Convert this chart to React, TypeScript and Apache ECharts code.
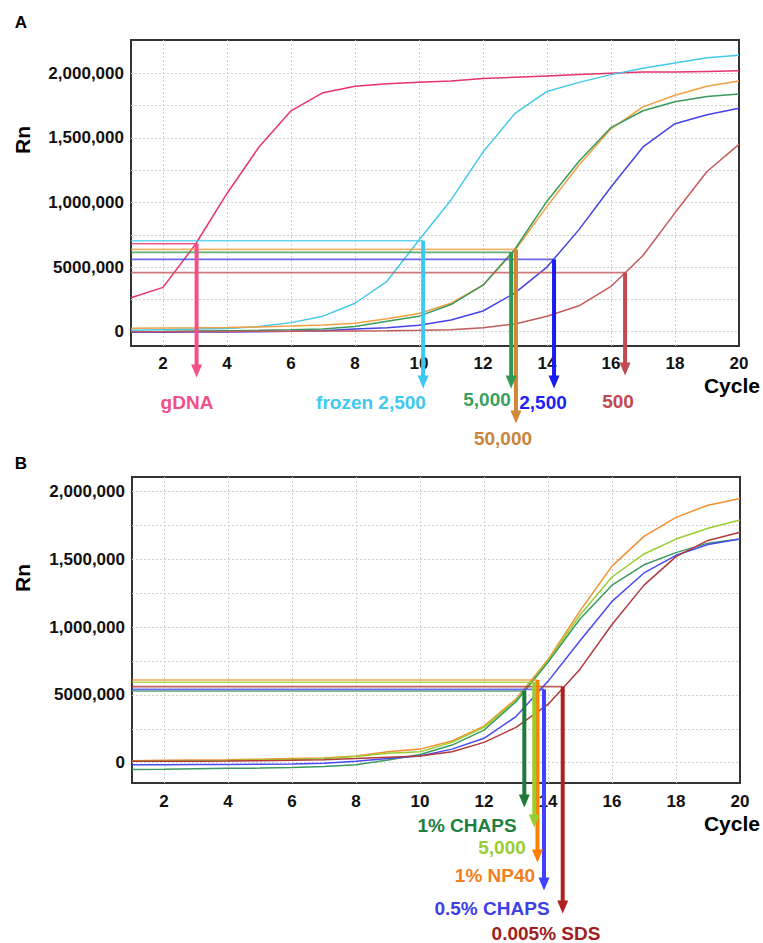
import React, { useEffect, useRef } from 'react';
import * as echarts from 'echarts';

// ---------- shared axis data ----------
const cycles = [1, 2, 3, 4, 5, 6, 7, 8, 9, 10, 11, 12, 13, 14, 15, 16, 17, 18, 19, 20];
const xTicks = [2, 4, 6, 8, 10, 12, 14, 16, 18, 20];
const xGridLines = [2, 4, 6, 8, 10, 12, 14, 16, 18];
const yTicks = [0, 0.5, 1, 1.5, 2]; // millions
const yTickLabels = ['0', '5000,000', '1,000,000', '1,500,000', '2,000,000'];
const yGridLines = [0, 0.25, 0.5, 0.75, 1, 1.25, 1.5, 1.75, 2];

// ---------- panel A (Rn in millions) ----------
const namesA = ['gDNA', 'frozen 2,500', '50,000', '5,000', '2,500', '500'];
const gDNA = [0.263, 0.343, 0.671, 1.07, 1.43, 1.71, 1.85, 1.9, 1.92, 1.93, 1.94, 1.96, 1.97, 1.98, 1.99, 2.0, 2.01, 2.01, 2.015, 2.02];
const frozen2500 = [0.01, 0.015, 0.02, 0.025, 0.04, 0.07, 0.12, 0.22, 0.39, 0.71, 1.02, 1.39, 1.69, 1.86, 1.93, 1.99, 2.04, 2.08, 2.12, 2.14];
const a50000 = [0.026, 0.028, 0.03, 0.033, 0.037, 0.043, 0.052, 0.065, 0.1, 0.14, 0.22, 0.36, 0.63, 0.97, 1.29, 1.57, 1.74, 1.83, 1.9, 1.94];
const a5000 = [0.0, 0.002, 0.005, 0.008, 0.01, 0.014, 0.02, 0.04, 0.08, 0.12, 0.21, 0.36, 0.64, 1.01, 1.32, 1.58, 1.71, 1.78, 1.82, 1.84];
const a2500 = [-0.005, -0.004, -0.003, -0.002, 0.0, 0.003, 0.007, 0.02, 0.03, 0.05, 0.09, 0.16, 0.3, 0.5, 0.79, 1.12, 1.43, 1.61, 1.68, 1.73];
const a500 = [0.0, 0.0, 0.001, 0.002, 0.003, 0.004, 0.005, 0.006, 0.007, 0.01, 0.015, 0.03, 0.06, 0.12, 0.2, 0.35, 0.59, 0.92, 1.24, 1.45];
const seriesA = [gDNA, frozen2500, a50000, a5000, a2500, a500];
const thresholdA = [0.681, 0.704, 0.637, 0.614, 0.56, 0.457];
const ctA = [3.05, 10.13, 13.03, 12.88, 14.22, 16.44];
const arrowEndA = [-0.304, -0.389, -0.66, -0.389, -0.389, -0.289];

// ---------- panel B ----------
const namesB = ['1% NP40', '5,000', '1% CHAPS', '0.5% CHAPS', '0.005% SDS'];
const np40 = [0.015, 0.018, 0.02, 0.022, 0.025, 0.03, 0.035, 0.05, 0.08, 0.1, 0.16, 0.27, 0.47, 0.76, 1.12, 1.45, 1.67, 1.81, 1.9, 1.95];
const b5000 = [0.01, 0.012, 0.014, 0.016, 0.02, 0.024, 0.03, 0.045, 0.07, 0.08, 0.15, 0.26, 0.46, 0.75, 1.09, 1.37, 1.54, 1.65, 1.73, 1.79];
const chaps1 = [-0.05, -0.048, -0.045, -0.042, -0.04, -0.035, -0.028, -0.015, 0.02, 0.06, 0.13, 0.24, 0.45, 0.74, 1.06, 1.31, 1.46, 1.55, 1.62, 1.65];
const chaps05 = [-0.015, -0.015, -0.014, -0.013, -0.012, -0.01, -0.005, 0.01, 0.03, 0.05, 0.1, 0.18, 0.34, 0.6, 0.9, 1.19, 1.4, 1.53, 1.61, 1.65];
const sds = [0.01, 0.01, 0.011, 0.012, 0.014, 0.017, 0.022, 0.03, 0.04, 0.05, 0.08, 0.15, 0.26, 0.43, 0.69, 1.02, 1.31, 1.52, 1.64, 1.7];
const seriesB = [np40, b5000, chaps1, chaps05, sds];
const thresholdB = [0.61, 0.593, 0.529, 0.541, 0.561];
const ctB = [13.67, 13.57, 13.26, 13.875, 14.46];
const arrowEndB = [-0.689, -0.43, -0.283, -0.895, -1.065];

// ---------- styles ----------
const FONT = '"Liberation Sans", Arial, Helvetica, sans-serif';
const curveColorsA = ['#e8336b', '#45c8ea', '#f0a040', '#3a9a5a', '#4343e6', '#c45a5a'];
const arrowColorsA = ['#f2508a', '#3cc8f2', '#d08838', '#2e9a55', '#1a1af2', '#c24a52'];
const labelColorsA = ['#f0508a', '#40c8f0', '#c8843c', '#3aa060', '#2020f0', '#c04850'];
const labelPosA = [[187, 402], [371, 402], [503, 438], [487, 399], [543, 402], [618, 401]];

const curveColorsB = ['#f29030', '#9acd32', '#3a9a60', '#4a4af2', '#b23a3a'];
const arrowColorsB = ['#ff8000', '#9acd32', '#1e7a3a', '#4040ff', '#b02020'];
const labelColorsB = ['#f08020', '#9acd32', '#1e8040', '#4040e8', '#a02020'];
const labelPosB = [[495, 875], [502, 847], [467, 825], [492, 908], [546, 933]];

function buildPanel(gi: number, names: string[], data: number[][], thr: number[], ct: number[], ends: number[], curveColors: string[], arrowColors: string[]) {
  const out: any[] = [];
  // grid lines
  out.push({
    type: 'line',
    xAxisIndex: gi,
    yAxisIndex: gi,
    data: [],
    silent: true,
    markLine: {
      silent: true,
      z: 1,
      symbol: ['none', 'none'],
      label: { show: false },
      lineStyle: { color: '#cfcfcf', type: [2, 2], width: 1 },
      data: [
        ...yGridLines.map((v) => ({ yAxis: v })),
        ...xGridLines.map((v) => ({ xAxis: v })),
      ],
    },
  });
  names.forEach((name, k) => {
    out.push({
      type: 'line',
      name,
      xAxisIndex: gi,
      yAxisIndex: gi,
      data: cycles.map((c, i) => [c, data[k][i]]),
      symbol: 'none',
      smooth: false,
      silent: true,
      lineStyle: { color: curveColors[k], width: 1.5 },
      itemStyle: { color: curveColors[k] },
      z: 3,
    });
  });
  names.forEach((name, k) => {
    out.push({
      type: 'line',
      name: name + ' threshold',
      xAxisIndex: gi,
      yAxisIndex: gi,
      data: [[1, thr[k]], [ct[k], thr[k]]],
      symbol: 'none',
      silent: true,
      lineStyle: { color: curveColors[k], width: 1.6, opacity: 0.8 },
      z: 4,
    });
  });
  names.forEach((name, k) => {
    out.push({
      type: 'line',
      name: name + ' Ct',
      xAxisIndex: gi,
      yAxisIndex: gi,
      clip: false,
      silent: true,
      showSymbol: true,
      showAllSymbol: true,
      data: [
        { value: [ct[k], thr[k]], symbol: 'none' },
        { value: [ct[k], ends[k]], symbol: 'triangle', symbolSize: [11, 13], symbolRotate: 180 },
      ],
      lineStyle: { color: arrowColors[k], width: 4 },
      itemStyle: { color: arrowColors[k] },
      z: 5,
    });
  });
  return out;
}

function axisPair(gi: number, yMin: number, yMax: number, xMargin: number) {
  const x = {
    gridIndex: gi,
    type: 'value',
    min: 1,
    max: 20,
    axisLine: { show: false },
    axisTick: { show: false },
    splitLine: { show: false },
    axisLabel: {
      customValues: xTicks,
      color: '#111',
      fontWeight: 'bold',
      fontSize: 17,
      fontFamily: FONT,
      margin: xMargin,
    },
  };
  const y = {
    gridIndex: gi,
    type: 'value',
    min: yMin,
    max: yMax,
    axisLine: { show: false },
    axisTick: { show: false },
    splitLine: { show: false },
    axisLabel: {
      customValues: yTicks,
      color: '#111',
      fontWeight: 'bold',
      fontSize: 17,
      fontFamily: FONT,
      margin: 7,
      formatter: (v: number) => {
        const i = yTicks.findIndex((t) => Math.abs(t - v) < 1e-9);
        return i >= 0 ? yTickLabels[i] : '';
      },
    },
  };
  return { x, y };
}

function text(t: string, x: number, y: number, fill: string, size: number, extra: any = {}) {
  return {
    type: 'text',
    x,
    y,
    silent: true,
    ...extra,
    style: {
      text: t,
      fill,
      font: `bold ${size}px ${FONT}`,
      textAlign: extra.align || 'center',
      textVerticalAlign: 'middle',
      verticalAlign: 'middle',
      align: extra.align || 'center',
    },
  };
}

export default function App() {
  const ref = useRef<HTMLDivElement>(null);
  useEffect(() => {
    document.body.style.margin = '0';
    if (!ref.current) return;
    const chart = echarts.init(ref.current, undefined, { renderer: 'svg' });
    const A = axisPair(0, -0.111, 2.258, 9);
    const B = axisPair(1, -0.15, 2.108, 10);
    const graphics: any[] = [
      text('A', 21, 22, '#000', 17),
      text('B', 21, 463, '#000', 17),
      text('Rn', 22, 140, '#000', 21, { rotation: Math.PI / 2 }),
      text('Rn', 22, 578, '#000', 21, { rotation: Math.PI / 2 }),
      { ...text('Cycle', 760, 385, '#000', 21), style: { ...text('Cycle', 0, 0, '#000', 21).style, textAlign: 'right', align: 'right' } },
      { ...text('Cycle', 760, 823, '#000', 21), style: { ...text('Cycle', 0, 0, '#000', 21).style, textAlign: 'right', align: 'right' } },
      ...namesA.map((n, k) => text(n, labelPosA[k][0], labelPosA[k][1], labelColorsA[k], 19)),
      ...namesB.map((n, k) => text(n, labelPosB[k][0], labelPosB[k][1], labelColorsB[k], 19)),
    ];
    chart.setOption({
      animation: false,
      backgroundColor: '#fff',
      grid: [
        { left: 131, top: 40, width: 608, height: 306, show: true, borderColor: '#333', borderWidth: 2, backgroundColor: 'transparent' },
        { left: 132, top: 477, width: 608, height: 306, show: true, borderColor: '#333', borderWidth: 2, backgroundColor: 'transparent' },
      ],
      xAxis: [A.x, B.x],
      yAxis: [A.y, B.y],
      series: [
        ...buildPanel(0, namesA, seriesA, thresholdA, ctA, arrowEndA, curveColorsA, arrowColorsA),
        ...buildPanel(1, namesB, seriesB, thresholdB, ctB, arrowEndB, curveColorsB, arrowColorsB),
      ],
      graphic: graphics,
    });
    return () => chart.dispose();
  }, []);
  return <div ref={ref} style={{ width: 763, height: 943 }} />;
}
